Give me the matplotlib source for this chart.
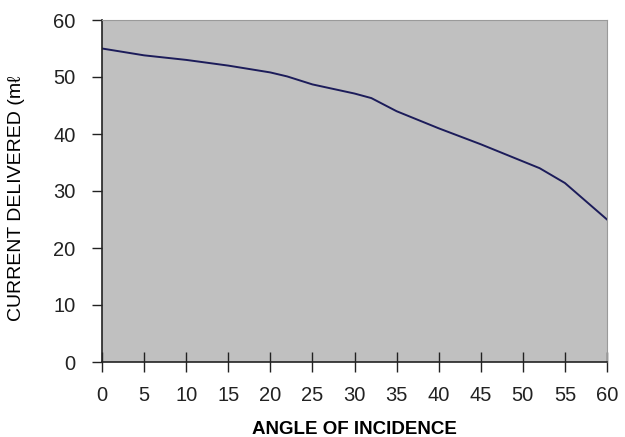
import matplotlib
matplotlib.use("Agg")
import matplotlib.pyplot as plt

angles = [0, 5, 10, 15, 20, 22, 25, 30, 32, 35, 40, 45, 50, 52, 55, 60]
current = [55.0, 53.8, 53.0, 52.0, 50.8, 50.1, 48.7, 47.1, 46.3, 44.0, 41.0, 38.2, 35.2, 34.0, 31.4, 25.0]
xticks = list(range(0, 61, 5))
yticks = list(range(0, 61, 10))

plt.rcParams['font.family'] = ['Liberation Sans', 'DejaVu Sans']

fig = plt.figure(figsize=(6.25, 4.37), dpi=100)
ax = fig.add_axes([102/625, 1 - 362/437, 505/625, 342/437])
ax.set_facecolor('#c0c0c0')
ax.plot(angles, current, color='#1c1c5a', lw=1.4)
ax.set_xlim(0, 60)
ax.set_ylim(0, 60)
ax.set_xticks(xticks)
ax.set_yticks(yticks)
ax.tick_params(labelsize=14.5, width=1, colors='#222222')
ax.tick_params(axis='x', direction='inout', length=14, pad=10)
ax.tick_params(axis='y', direction='out', length=7, pad=12)
for s in ['left', 'bottom']:
    ax.spines[s].set_color('#222222')
    ax.spines[s].set_linewidth(1.2)
for s in ['top', 'right']:
    ax.spines[s].set_color('#9a9a9a')
    ax.spines[s].set_linewidth(0.8)

ax.set_xlabel('ANGLE OF INCIDENCE', fontsize=13.5, fontweight='bold', labelpad=12)
ax.set_ylabel('CURRENT DELIVERED (m\u2113', fontsize=14)
ax.yaxis.set_label_coords(-0.152, 0.48)

fig.savefig('out.png', dpi=100)
